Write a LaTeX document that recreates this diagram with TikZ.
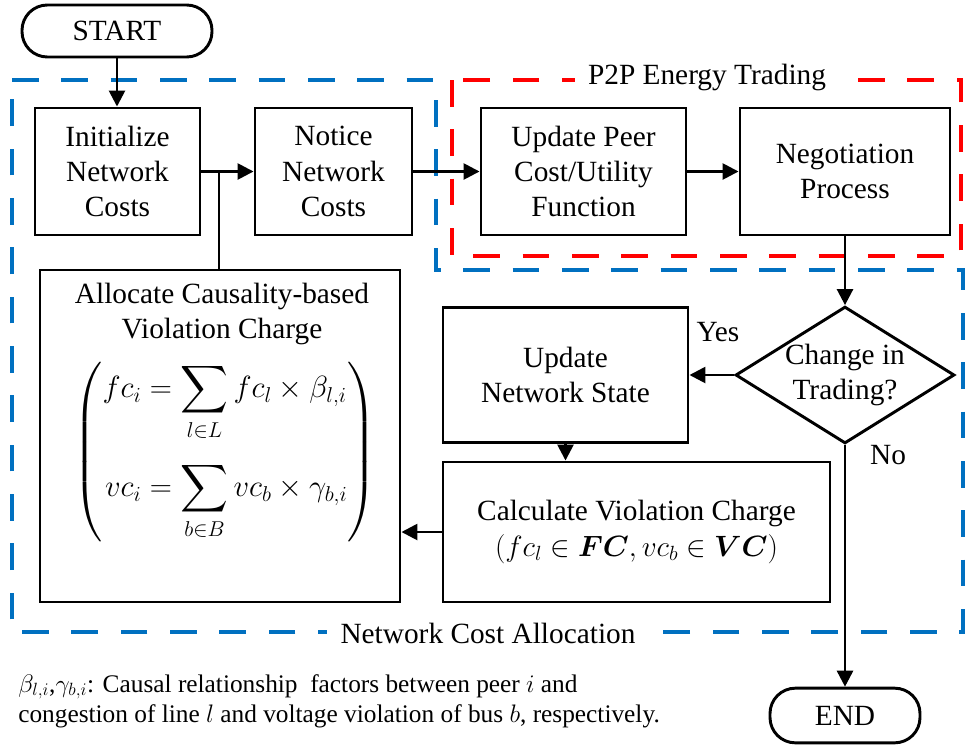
\RequirePackage{fix-cm}
\documentclass[tikz,border=0pt]{standalone}
\usepackage{amsmath,bm}
\usepackage{fontspec}
\setmainfont{Liberation Serif}
\usetikzlibrary{shapes.geometric,arrows.meta}

\definecolor{zblue}{RGB}{0,112,192}
\definecolor{zred}{RGB}{255,0,0}
\newcommand\mainsz{\fontsize{22}{26.5}\selectfont}
\newcommand\notesz{\fontsize{19}{22.5}\selectfont}

\tikzset{
  box/.style={draw, line width=2.2pt, align=center, font=\mainsz, inner sep=2pt},
  term/.style={draw, line width=2.2pt, rounded corners=19pt, font=\mainsz, inner sep=2pt},
  flow/.style={line width=2pt, -{Triangle[length=12pt,width=12pt]}},
  plain/.style={line width=2pt},
  zone/.style={line width=3pt, dash pattern=on 20pt off 17pt},
  zonelabel/.style={font=\mainsz, fill=white, inner xsep=10pt, inner ysep=0pt},
}

\begin{document}
\begin{tikzpicture}[x=0.75pt, y=-0.75pt]
\useasboundingbox (0,0) rectangle (967,747);

% dashed zones
\draw[zone, draw=zblue] (12,80) -- (436,80) -- (436,270) -- (963,270) -- (963,632) -- (12,632) -- cycle;
\draw[zone, draw=zred] (452,80) rectangle (961,256);
\node[zonelabel] (p2p) at (707,77) {P2P Energy Trading};
\node[zonelabel] (nca) at (488,633) {Network Cost Allocation};

% terminals
\node[term, minimum width=142.5pt, minimum height=39pt] (start) at (117,31) {START};
\node[term, minimum width=112.5pt, minimum height=41pt] (end) at (845,715.5) {END};

% top row
\node[box, minimum width=123.75pt, minimum height=95.25pt] (init) at (117.5,171.5) {Initialize\\Network\\Costs};
\node[box, minimum width=117.75pt, minimum height=95.25pt] (notice) at (333.5,171.5) {Notice\\Network\\Costs};
\node[box, minimum width=153.75pt, minimum height=95.25pt] (peer) at (583.5,171.5) {Update Peer\\Cost/Utility\\Function};
\node[box, minimum width=157.5pt, minimum height=95.25pt] (nego) at (845,171.5) {Negotiation\\Process};

% allocation box
\node[box, minimum width=270pt, minimum height=249pt] (alloc) at (220,436) {};
\node[font=\mainsz, align=center] (alloctitle) at (222,314) {Allocate Causality-based\\Violation Charge};
\node (alloceq) at (225,452) {\fontsize{23}{28}\selectfont$\left(\begin{aligned}
  fc_i&=\sum_{l\in L} fc_l\times\beta_{l,i}\\[12pt]
  vc_i&=\sum_{b\in B} vc_b\times\gamma_{b,i}
\end{aligned}\right)$};

% lower right
\node[box, minimum width=183.75pt, minimum height=101.25pt] (uns) at (565.5,375) {Update\\Network State};
\node[box, minimum width=290.25pt, minimum height=105pt] (calc) at (636.5,532) {Calculate Violation Charge\\$(fc_l\in\bm{FC},vc_b\in\bm{VC})$};
\node[draw, diamond, line width=2.2pt, aspect=1.6, inner sep=0pt, minimum width=160.5pt, minimum height=100.5pt, align=center, font=\mainsz] (dec) at (845,375) {Change in\\Trading?};

\node[font=\mainsz] (yes) at (718,332) {Yes};
\node[font=\mainsz] (no) at (888,455) {No};

% connectors
\coordinate (j) at (219,171.5);
\draw[flow] (start.south) -- (start.south |- init.north);
\draw[flow] (init.east) -- (notice.west);
\draw[plain] (j |- alloc.north) -- (j);
\draw[flow] (notice.east) -- (peer.west);
\draw[flow] (peer.east) -- (nego.west);
\draw[flow] (nego.south) -- (dec.north);
\draw[flow] (dec.west) -- (uns.east);
\draw[flow] (uns.south) -- (uns.south |- calc.north);
\draw[flow] (calc.west) -- (calc.west -| alloc.east);
\draw[flow] (dec.south) -- (end.north);

% footnote
\node[anchor=north west, align=left, font=\notesz, inner sep=0pt] (note) at (18,674)
  {$\beta_{l,i}$,$\gamma_{b,i}$: Causal relationship\ \ factors between peer $i$ and\\
   congestion of line $l$ and voltage violation of bus $b$, respectively.};
\end{tikzpicture}
\end{document}
